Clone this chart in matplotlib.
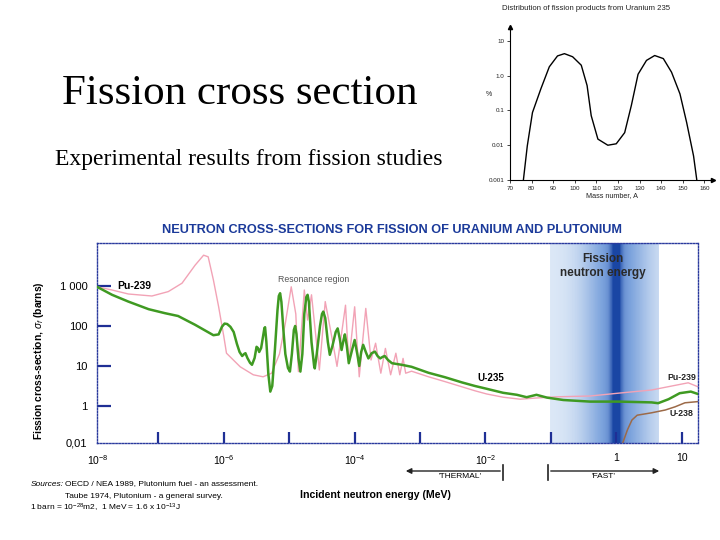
import numpy as np
import matplotlib
matplotlib.use("Agg")
import matplotlib.pyplot as plt
from matplotlib.colors import LinearSegmentedColormap

plt.rcParams['font.family'] = ['Liberation Sans', 'DejaVu Sans']
plt.rcParams['mathtext.fontset'] = 'custom'
plt.rcParams['mathtext.rm'] = 'Liberation Sans'
plt.rcParams['mathtext.it'] = 'Liberation Sans:italic'
plt.rcParams['mathtext.bf'] = 'Liberation Sans:bold'

# Inset: fission product yield of U-235 (percent vs mass number)
mass_number = [76.2, 78, 80.4, 84.3, 88.2, 92, 95.2, 99, 103, 105.7, 107.6, 110.7,
               115.3, 119.2, 123.1, 126.2, 129.3, 133.2, 137, 141, 144.8, 148.7,
               151.8, 155, 156.5]
yield_pct = [0.001, 0.0095, 0.087, 0.42, 1.8, 3.7, 4.3, 3.5, 2.0, 0.52, 0.071, 0.015,
             0.010, 0.011, 0.023, 0.14, 1.1, 2.75, 3.8, 3.1, 1.26, 0.30,
             0.045, 0.0049, 0.001]
inset_xticks = [70, 80, 90, 100, 110, 120, 130, 140, 150, 160]
inset_yticks = [0.001, 0.01, 0.1, 1, 10]
inset_ylabels = ["0.001", "0.01", "0.1", "1.0", "10"]

# Main chart: log10(energy in MeV) and log10(cross-section in barns)
u235_logE = [-7.94, -7.71, -7.46, -7.15, -6.90, -6.70, -6.44, -6.16, -6.08, -6.03, -5.99,
             -5.95, -5.90, -5.85, -5.80, -5.76, -5.72, -5.69, -5.67, -5.64, -5.60, -5.57,
             -5.53, -5.50, -5.48, -5.46, -5.43, -5.40, -5.38, -5.37, -5.35, -5.32, -5.29,
             -5.26, -5.22, -5.18, -5.16, -5.14, -5.12, -5.09, -5.06, -5.02, -4.99, -4.96,
             -4.93, -4.91, -4.89, -4.86, -4.83, -4.80, -4.77, -4.74, -4.72, -4.70, -4.66,
             -4.62, -4.61, -4.58, -4.53, -4.50, -4.48, -4.45, -4.41, -4.38, -4.34, -4.29,
             -4.26, -4.23, -4.20, -4.17, -4.15, -4.12, -4.09, -4.04, -4.00, -3.96, -3.93,
             -3.90, -3.87, -3.83, -3.79, -3.74, -3.69, -3.65, -3.61, -3.57, -3.54, -3.49,
             -3.43, -3.28, -3.13, -2.87, -2.62, -2.36, -2.16, -1.98, -1.73, -1.52, -1.37,
             -1.22, -1.06, -0.81, -0.40, 0.03, 0.54, 0.64, 0.80, 0.97, 1.14, 1.25]
u235_logxs = [2.98, 2.78, 2.61, 2.42, 2.32, 2.25, 2.03, 1.77, 1.79, 1.98, 2.06,
              2.05, 1.98, 1.85, 1.55, 1.35, 1.25, 1.30, 1.32, 1.20, 1.08, 1.03,
              1.20, 1.48, 1.45, 1.35, 1.45, 1.75, 1.95, 1.97, 1.60, 0.80, 0.36,
              0.50, 1.40, 2.40, 2.75, 2.82, 2.60, 1.90, 1.30, 0.95, 0.86, 1.30,
              1.90, 2.00, 1.80, 1.20, 0.86, 1.30, 2.30, 2.72, 2.78, 2.60, 1.60,
              1.00, 0.94, 1.30, 2.00, 2.30, 2.36, 2.20, 1.60, 1.28, 1.50, 1.85,
              1.94, 1.70, 1.40, 1.65, 1.79, 1.50, 1.07, 1.40, 1.65, 1.30, 1.00,
              1.35, 1.53, 1.35, 1.19, 1.32, 1.36, 1.25, 1.19, 1.23, 1.25, 1.15,
              1.07, 1.03, 0.98, 0.83, 0.72, 0.59, 0.50, 0.43, 0.33, 0.28, 0.22,
              0.28, 0.21, 0.15, 0.11, 0.11, 0.09, 0.07, 0.17, 0.32, 0.36, 0.30]

pu239_logE = [-7.94, -7.71, -7.46, -7.10, -6.85, -6.64, -6.44, -6.31, -6.24, -6.16, -6.08,
              -6.00, -5.96, -5.75, -5.55, -5.40, -5.27, -5.15, -5.06, -4.97, -4.90, -4.86,
              -4.77, -4.72, -4.66, -4.54, -4.45, -4.35, -4.27, -4.14, -4.09, -4.00, -3.93,
              -3.83, -3.75, -3.68, -3.60, -3.53, -3.45, -3.37, -3.31, -3.26, -3.22, -3.13,
              -2.87, -2.62, -2.36, -2.16, -1.98, -1.73, -1.47, -1.22, -0.91, -0.40, 0.03,
              0.54, 0.85, 1.10, 1.25]
pu239_logxs = [2.98, 2.90, 2.80, 2.75, 2.86, 3.07, 3.52, 3.77, 3.73, 3.15, 2.48,
               1.73, 1.32, 0.98, 0.78, 0.73, 0.82, 1.30, 2.07, 2.98, 2.30, 0.86,
               2.90, 2.15, 2.78, 0.90, 2.61, 1.73, 0.99, 2.52, 1.07, 2.48, 0.73,
               2.44, 1.15, 1.57, 0.82, 1.44, 0.78, 1.32, 0.78, 1.19, 0.82, 0.87,
               0.73, 0.61, 0.48, 0.38, 0.30, 0.22, 0.17, 0.20, 0.23, 0.25, 0.32,
               0.40, 0.50, 0.58, 0.48]

u238_logE = [0.10, 0.17, 0.24, 0.32, 0.54, 0.75, 0.90, 1.05, 1.25]
u238_logxs = [-0.92, -0.60, -0.35, -0.23, -0.17, -0.10, -0.02, 0.08, 0.11]

yticks_main = [1, 10, 100, 1000]
ylabels_main = ["1", "10", "100", "1 000"]
xlabel_exp = {-6: r"10$^{-6}$", -4: r"10$^{-4}$", -2: r"10$^{-2}$", 0: "1", 1: "10"}

navy = '#2a3a9e'
W, H = 720, 540


def fx(x):
    return x / W


def fy(y):
    return 1 - y / H


fig = plt.figure(figsize=(7.2, 5.4), dpi=100)

# Slide texts
fig.text(fx(62), fy(94), "Fission cross section", family='Liberation Serif',
         fontsize=31, va='center', ha='left')
fig.text(fx(55), fy(160), "Experimental results from fission studies",
         family='Liberation Serif', fontsize=17, va='center', ha='left')

# ---------------- Inset ----------------
ax2 = fig.add_axes([fx(510), fy(180), 203 / W, 153 / H])
ax2.set_yscale('log')
ax2.set_xlim(70, 164)
ax2.set_ylim(1e-3, 10 ** 1.4)
ax2.plot(mass_number, yield_pct, color='k', lw=1)
for s in ['top', 'right']:
    ax2.spines[s].set_visible(False)
for s in ['left', 'bottom']:
    ax2.spines[s].set_linewidth(0.8)
ax2.plot(1, 1e-3, '>k', ms=3, transform=ax2.get_yaxis_transform(), clip_on=False)
ax2.plot(70, 1, '^k', ms=3, transform=ax2.get_xaxis_transform(), clip_on=False)
ax2.set_xticks(inset_xticks)
ax2.set_xticklabels([str(v) for v in inset_xticks])
ax2.set_yticks(inset_yticks)
ax2.set_yticklabels(inset_ylabels)
ax2.minorticks_off()
ax2.tick_params(labelsize=4.5, length=2, width=0.6, pad=2, colors='#222')
ax2.set_xlabel("Mass number, A", fontsize=5.2, labelpad=1, color='#222')
fig.text(fx(489), fy(95), "%", fontsize=5, ha='center', va='center', color='#222')
fig.text(fx(586), fy(9), "Distribution of fission products from Uranium 235",
         fontsize=5.6, ha='center', va='center', color='#222')

# ---------------- Main chart ----------------
ax = fig.add_axes([fx(97), fy(443), 601 / W, 200 / H])
ax.set_xscale('log')
ax.set_yscale('log')
ax.set_xlim(10 ** -7.94, 10 ** 1.25)
ax.set_ylim(10 ** -0.925, 10 ** 4.075)

# fission neutron energy band
edges = np.linspace(-1.01, 0.66, 300)
mid = 0.5 * (edges[1:] + edges[:-1])
inten = 0.04 + 0.55 * np.exp(-(mid / 0.5) ** 2) + 0.6 * np.exp(-(mid / 0.08) ** 2)
inten = np.clip(inten, 0, 1)
band_cmap = LinearSegmentedColormap.from_list(
    'band', [(0, '#e6eff9'), (0.5, '#7ba2dc'), (1, '#1a46a4')])
ax.pcolormesh(10 ** edges, [10 ** -0.925, 10 ** 4.075], inten[np.newaxis, :],
              cmap=band_cmap, vmin=0, vmax=1, shading='flat', zorder=0)

ax.plot(10 ** np.array(pu239_logE), 10 ** np.array(pu239_logxs),
        color='#f2a3b6', lw=1.0, zorder=2)
ax.plot(10 ** np.array(u238_logE), 10 ** np.array(u238_logxs),
        color='#9c6a48', lw=1.1, zorder=2)
ax.plot(10 ** np.array(u235_logE), 10 ** np.array(u235_logxs),
        color='#3f9a22', lw=1.8, zorder=3)

for s in ax.spines.values():
    s.set_linestyle((0, (1, 1.2)))
    s.set_color(navy)
    s.set_linewidth(1.0)

major = 10.0 ** np.arange(-7, 2)
ax.set_xticks(major)
ax.set_xticklabels([xlabel_exp.get(int(round(np.log10(v))), "") for v in major])
ax.set_yticks(yticks_main)
ax.set_yticklabels(ylabels_main)
ax.minorticks_off()
ax.tick_params(axis='x', direction='in', length=8, width=1.6, color='#1f2f95',
               labelsize=7.5, pad=7)
ax.tick_params(axis='y', direction='in', length=10, width=1.6, color='#1f2f95',
               labelsize=8, pad=7)
ax.text(10 ** -7.92, -0.085, r"10$^{-8}$", transform=ax.get_xaxis_transform(),
        fontsize=7.5, ha='center', va='center', clip_on=False)
ax.text(-0.016, 0.0, "0,01", transform=ax.transAxes, fontsize=8,
        ha='right', va='center')

ax.set_ylabel(r"Fission cross-section, $\sigma_f$ (barns)", fontsize=7.4,
              fontweight='bold', labelpad=4)
ax.yaxis.set_label_coords(-0.098, 0.41)
ax.yaxis.label.set_position((-0.098, 0.41))
ax.yaxis.set_label_coords(-0.085, 0.41)

fig.text(fx(392), fy(230), "NEUTRON CROSS-SECTIONS FOR FISSION OF URANIUM AND PLUTONIUM",
         ha='center', va='center', fontsize=9.2, fontweight='bold', color='#1b3a9a')

# curve labels
fig.text(fx(117), fy(286), "Pu-239", fontsize=7.5, fontweight='bold', va='center')
fig.text(fx(278), fy(280), "Resonance region", fontsize=6.3, color='#555', va='center')
fig.text(fx(477), fy(378), "U-235", fontsize=7, fontweight='bold', va='center')
fig.text(fx(667), fy(378), "Pu-239", fontsize=6.3, fontweight='bold', va='center',
         color='#222')
fig.text(fx(670), fy(413), "U-238", fontsize=6.3, fontweight='bold', va='center',
         color='#222')
fig.text(fx(603), fy(259), "Fission", fontsize=8.5, fontweight='bold', ha='center',
         va='center', color='#2a2a2a')
fig.text(fx(603), fy(273), "neutron energy", fontsize=8.5, fontweight='bold',
         ha='center', va='center', color='#2a2a2a')

# thermal / fast arrows
ax.annotate("", xy=(403, H - 471), xytext=(503, H - 471), xycoords='figure pixels',
            textcoords='figure pixels',
            arrowprops=dict(arrowstyle='-|>', color='#222', lw=1, mutation_scale=8))
ax.annotate("", xy=(662, H - 471), xytext=(548, H - 471), xycoords='figure pixels',
            textcoords='figure pixels',
            arrowprops=dict(arrowstyle='-|>', color='#222', lw=1, mutation_scale=8))
fig.lines.append(plt.Line2D([fx(503), fx(503)], [fy(465), fy(480)],
                            transform=fig.transFigure, color='#222', lw=1.2))
fig.lines.append(plt.Line2D([fx(548), fx(548)], [fy(465), fy(480)],
                            transform=fig.transFigure, color='#222', lw=1.2))
fig.text(fx(460), fy(477), "'THERMAL'", fontsize=6, ha='center', va='center')
fig.text(fx(603), fy(477), "'FAST'", fontsize=6, ha='center', va='center')

fig.text(fx(300), fy(495), "Incident neutron energy (MeV)", fontsize=7.6,
         fontweight='bold', va='center', ha='left')

# sources
fig.text(fx(31), fy(484), "Sources:", fontsize=6, style='italic', va='center')
fig.text(fx(65), fy(484), "OECD / NEA 1989, Plutonium fuel - an assessment.",
         fontsize=6, va='center')
fig.text(fx(65), fy(497), "Taube 1974, Plutonium - a general survey.",
         fontsize=6, va='center')
fig.text(fx(30), fy(508), r"1 barn = 10$^{-28}$m2,  1 MeV = 1.6 x 10$^{-13}$J",
         fontsize=6, va='center')

fig.savefig("out.png", dpi=100)
